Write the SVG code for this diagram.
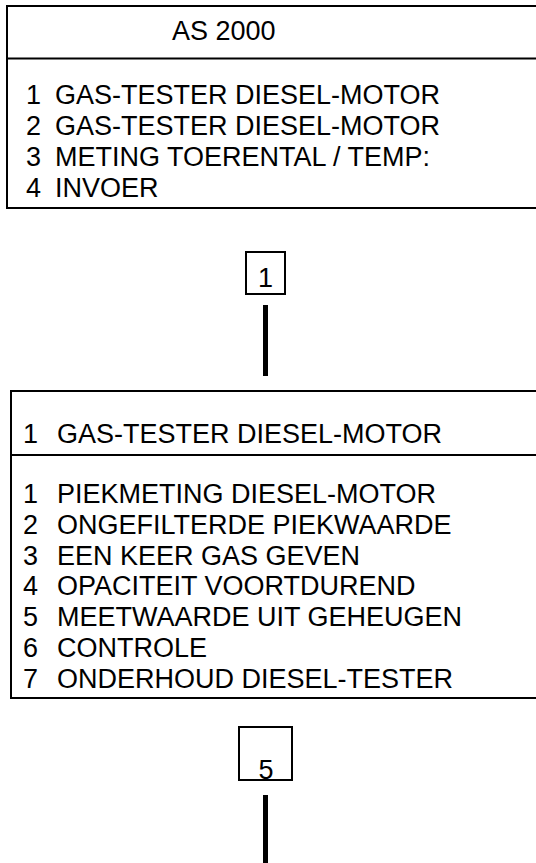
<svg xmlns="http://www.w3.org/2000/svg" width="536" height="863" viewBox="0 0 536 863">
<style>
.box{fill:#fff;stroke:#000;stroke-width:2}
.sep{stroke:#000;stroke-width:2}
.t{font-family:"Liberation Sans",Arial,sans-serif;font-size:27px;fill:#000}
.conn{stroke:#000;stroke-width:5}
</style>
<rect width="536" height="863" fill="#fff"/>
<g id="menu-as2000">
<rect class="box" x="7" y="6" width="560" height="202"/>
<line class="sep" x1="7" y1="58.5" x2="536" y2="58.5"/>
<text class="t" x="172" y="40">AS 2000</text>
<text class="t" x="26" y="104">1</text><text class="t" x="55" y="104">GAS-TESTER DIESEL-MOTOR</text>
<text class="t" x="26" y="135">2</text><text class="t" x="55" y="135">GAS-TESTER DIESEL-MOTOR</text>
<text class="t" x="26" y="166">3</text><text class="t" x="55" y="166">METING TOERENTAL / TEMP:</text>
<text class="t" x="26" y="197">4</text><text class="t" x="55" y="197">INVOER</text>
</g>
<g id="key-1">
<rect class="box" x="246" y="252" width="39" height="42"/>
<text class="t" x="265.5" y="287" text-anchor="middle">1</text>
</g>
<g id="menu-gas-tester">
<rect class="box" x="11" y="391" width="560" height="307"/>
<line class="sep" x1="11" y1="455" x2="536" y2="455"/>
<text class="t" x="23" y="443">1</text><text class="t" x="57" y="443">GAS-TESTER DIESEL-MOTOR</text>
<text class="t" x="23" y="503">1</text><text class="t" x="57" y="503">PIEKMETING DIESEL-MOTOR</text>
<text class="t" x="23" y="534">2</text><text class="t" x="57" y="534">ONGEFILTERDE PIEKWAARDE</text>
<text class="t" x="23" y="565">3</text><text class="t" x="57" y="565">EEN KEER GAS GEVEN</text>
<text class="t" x="23" y="595">4</text><text class="t" x="57" y="595">OPACITEIT VOORTDUREND</text>
<text class="t" x="23" y="626">5</text><text class="t" x="57" y="626">MEETWAARDE UIT GEHEUGEN</text>
<text class="t" x="23" y="657">6</text><text class="t" x="57" y="657">CONTROLE</text>
<text class="t" x="23" y="688">7</text><text class="t" x="57" y="688">ONDERHOUD DIESEL-TESTER</text>
</g>
<g id="key-5">
<rect class="box" x="239" y="727" width="53" height="53"/>
<text class="t" x="266" y="779" text-anchor="middle">5</text>
</g>
<g id="connectors">
<line class="conn" x1="265.5" y1="305" x2="265.5" y2="376"/>
<line class="conn" x1="265.5" y1="795" x2="265.5" y2="863"/>
</g>
</svg>
